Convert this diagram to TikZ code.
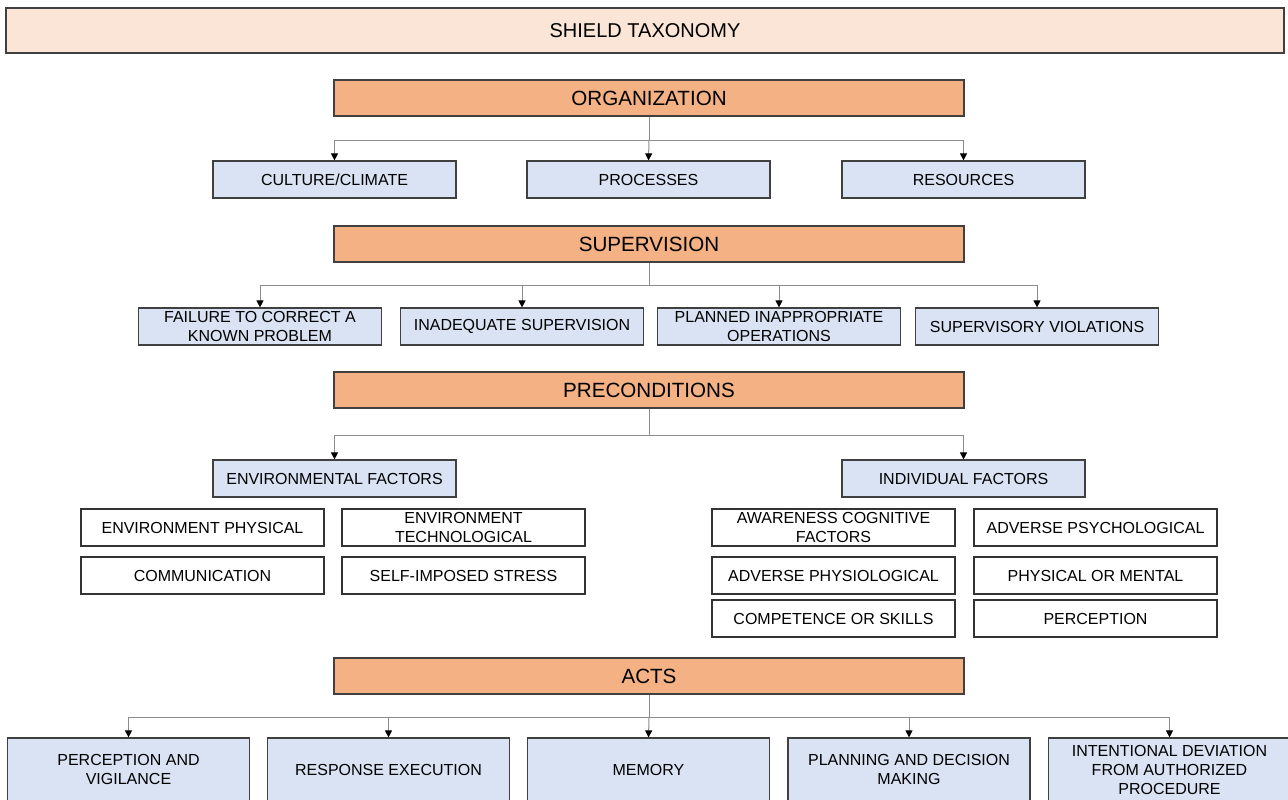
\documentclass[tikz,border=0pt]{standalone}
\usepackage{fontspec}
\setmainfont{Liberation Sans}
\usetikzlibrary{arrows.meta,positioning}

\definecolor{titlefill}{HTML}{FBE5D6}
\definecolor{headfill}{HTML}{F4B183}
\definecolor{subfill}{HTML}{DAE3F3}
\definecolor{edgegray}{HTML}{404040}
\definecolor{linegray}{HTML}{8C8C8C}

\begin{document}
\begin{tikzpicture}[x=0.5pt,y=-0.5pt,
 title/.style={draw=edgegray,line width=0.6pt,fill=titlefill,minimum width=639pt,minimum height=22.5pt,inner sep=0pt,font=\fontsize{10}{12}\selectfont},
 head/.style={draw=edgegray,line width=0.6pt,fill=headfill,minimum width=315pt,minimum height=18pt,inner sep=0pt,font=\fontsize{10.3}{12}\selectfont},
 sub/.style={draw=edgegray,line width=0.6pt,fill=subfill,minimum width=121.5pt,minimum height=18.5pt,inner sep=0pt,align=center,font=\fontsize{8}{9.5}\selectfont},
 leaf/.style={draw=black!80,line width=0.6pt,fill=white,minimum width=121.5pt,minimum height=18.5pt,inner sep=0pt,align=center,font=\fontsize{8}{9.5}\selectfont},
 act/.style={draw=edgegray,line width=0.6pt,fill=subfill,minimum width=121pt,minimum height=31.5pt,inner sep=0pt,align=center,font=\fontsize{8}{9.5}\selectfont},
 conn/.style={draw=linegray,line width=0.5pt},
 arr/.style={conn,-{Triangle[length=3.5pt,width=3.5pt,color=black]}}]
\useasboundingbox (0,0) rectangle (1288,799);

% title and levels
\node[title] (tax) at (645,30.5) {SHIELD TAXONOMY};
\node[head] (org) at (649,98) {ORGANIZATION};
\node[head] (sup) at (649,244) {SUPERVISION};
\node[head] (pre) at (649,390) {PRECONDITIONS};
\node[head] (acts) at (649,676) {ACTS};

% organization
\node[sub] (cult) at (334.5,179.5) {CULTURE/CLIMATE};
\node[sub] (proc) at (648.5,179.5) {PROCESSES};
\node[sub] (res) at (963.5,179.5) {RESOURCES};
\coordinate (orgbus) at (649,140);
\draw[conn] (org.south) -- (orgbus);
\draw[arr] (orgbus) -| (cult.north);
\draw[arr] (orgbus) -- (proc.north);
\draw[arr] (orgbus) -| (res.north);

% supervision
\node[sub] (fail) at (260,326.5) {FAILURE TO CORRECT A\\KNOWN PROBLEM};
\node[sub] (inad) at (522,326.5) {INADEQUATE SUPERVISION};
\node[sub] (plan) at (779,326.5) {PLANNED INAPPROPRIATE\\OPERATIONS};
\node[sub] (viol) at (1037,326.5) {SUPERVISORY VIOLATIONS};
\coordinate (supbus) at (649,285);
\draw[conn] (sup.south) -- (supbus);
\draw[arr] (supbus) -| (fail.north);
\draw[arr] (supbus) -| (inad.north);
\draw[arr] (supbus) -| (plan.north);
\draw[arr] (supbus) -| (viol.north);

% preconditions
\node[sub] (env) at (334.5,478.5) {ENVIRONMENTAL FACTORS};
\node[sub] (indiv) at (963.5,478.5) {INDIVIDUAL FACTORS};
\coordinate (prebus) at (649,435);
\draw[conn] (pre.south) -- (prebus);
\draw[arr] (prebus) -| (env.north);
\draw[arr] (prebus) -| (indiv.north);

\node[leaf] (envphys) at (202.5,527.5) {ENVIRONMENT PHYSICAL};
\node[leaf] (envtech) at (463.5,527.5) {ENVIRONMENT\\TECHNOLOGICAL};
\node[leaf] (comm) at (202.5,575.5) {COMMUNICATION};
\node[leaf] (stress) at (463.5,575.5) {SELF-IMPOSED STRESS};

\node[leaf] (aware) at (833.5,527.5) {AWARENESS COGNITIVE\\FACTORS};
\node[leaf] (psych) at (1095.5,527.5) {ADVERSE PSYCHOLOGICAL};
\node[leaf] (physio) at (833.5,575.5) {ADVERSE PHYSIOLOGICAL};
\node[leaf] (mental) at (1095.5,575.5) {PHYSICAL OR MENTAL};
\node[leaf] (comp) at (833.5,618.5) {COMPETENCE OR SKILLS};
\node[leaf] (perc) at (1095.5,618.5) {PERCEPTION};

% acts
\node[act] (vig) at (128.5,769.5) {PERCEPTION AND\\VIGILANCE};
\node[act] (resp) at (388.5,769.5) {RESPONSE EXECUTION};
\node[act] (mem) at (648.5,769.5) {MEMORY};
\node[act] (dec) at (909,769.5) {PLANNING AND DECISION\\MAKING};
\node[act] (dev) at (1169.5,769.5) {INTENTIONAL DEVIATION\\FROM AUTHORIZED\\PROCEDURE};
\coordinate (actbus) at (649,717);
\draw[conn] (acts.south) -- (actbus);
\draw[arr] (actbus) -| (vig.north);
\draw[arr] (actbus) -| (resp.north);
\draw[arr] (actbus) -- (mem.north);
\draw[arr] (actbus) -| (dec.north);
\draw[arr] (actbus) -| (dev.north);
\end{tikzpicture}
\end{document}
